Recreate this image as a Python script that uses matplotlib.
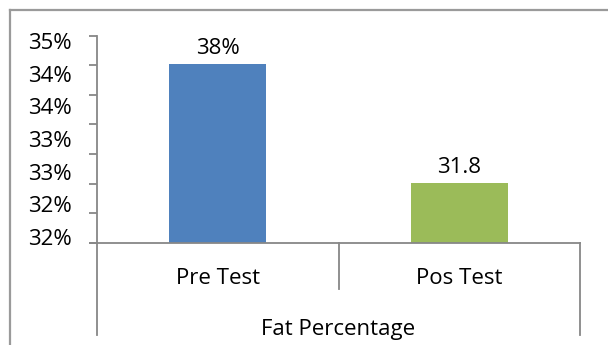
import numpy as np
import matplotlib.pyplot as plt
from matplotlib.lines import Line2D

categories = ["Pre Test", "Pos Test"]
values = [38.0, 31.8]
value_labels = ["38%", "31.8"]
group_label = "Fat Percentage"
ytick_labels = ["32%", "32%", "33%", "33%", "34%", "34%", "35%"]
colors = ["#4F81BD", "#9BBB59"]

plt.rcParams["font.family"] = ["Open Sans", "DejaVu Sans"]
GRAY = "#878787"
FS = 16

W, H = 608, 345
fig = plt.figure(figsize=(W / 100, H / 100), dpi=100)

# outer chart border (top and left edges only are visible)
fig.add_artist(Line2D([10 / W, 10 / W], [0, 1 - 9.5 / H], color="#9a9a9a", lw=1.6))
fig.add_artist(Line2D([10 / W, 1], [1 - 9.5 / H, 1 - 9.5 / H], color="#9a9a9a", lw=1.6))

ax = fig.add_axes([97 / W, (H - 243) / H, (580 - 97) / W, (243 - 35.5) / H])

x = np.arange(len(categories))
ax.bar(x, values, width=0.4, color=colors, zorder=2)
ax.set_xlim(-0.5, len(categories) - 0.5)
lo, hi = 28.7, 39.5
ax.set_ylim(lo, hi)

for xi, v, lab in zip(x, values, value_labels):
    ax.annotate(lab, (xi, v), xytext=(0, 4), textcoords="offset points",
                ha="center", va="bottom", fontsize=FS)

for s in ["top", "right", "bottom"]:
    ax.spines[s].set_visible(False)
ax.spines["left"].set_color(GRAY)
ax.spines["left"].set_linewidth(1.3)

# tick marks and their labels sit at slightly different heights
span = hi - lo
ax.set_yticks(np.linspace(lo, hi, 8), minor=True)
ax.set_yticks(np.linspace(lo + 0.029 * span, lo + 0.973 * span, len(ytick_labels)))
ax.set_yticklabels(ytick_labels, fontsize=FS)
ax.tick_params(axis="y", which="major", length=0, pad=18)
ax.tick_params(axis="y", which="minor", length=6, width=1.3, color=GRAY, direction="out")
ax.set_xticks([])

# multi-level category axis
tr = ax.transAxes
ax.add_line(Line2D([-7 / 483, 1], [0, 0], transform=tr, color=GRAY, lw=1.3, clip_on=False))
ax.add_line(Line2D([0, 0], [0, -92 / 207.5], transform=tr, color=GRAY, lw=1.3, clip_on=False))
ax.add_line(Line2D([0.5, 0.5], [0, -46 / 207.5], transform=tr, color=GRAY, lw=1.3, clip_on=False))
ax.add_line(Line2D([1, 1], [0, -92 / 207.5], transform=tr, color=GRAY, lw=1.3, clip_on=False))
for i, c in enumerate(categories):
    ax.text((i + 0.5) / len(categories), -35 / 207.5, c, transform=tr,
            ha="center", va="center", fontsize=FS)
ax.text(0.5, -86 / 207.5, group_label, transform=tr, ha="center", va="center", fontsize=FS)

fig.savefig("out.png", dpi=100)
